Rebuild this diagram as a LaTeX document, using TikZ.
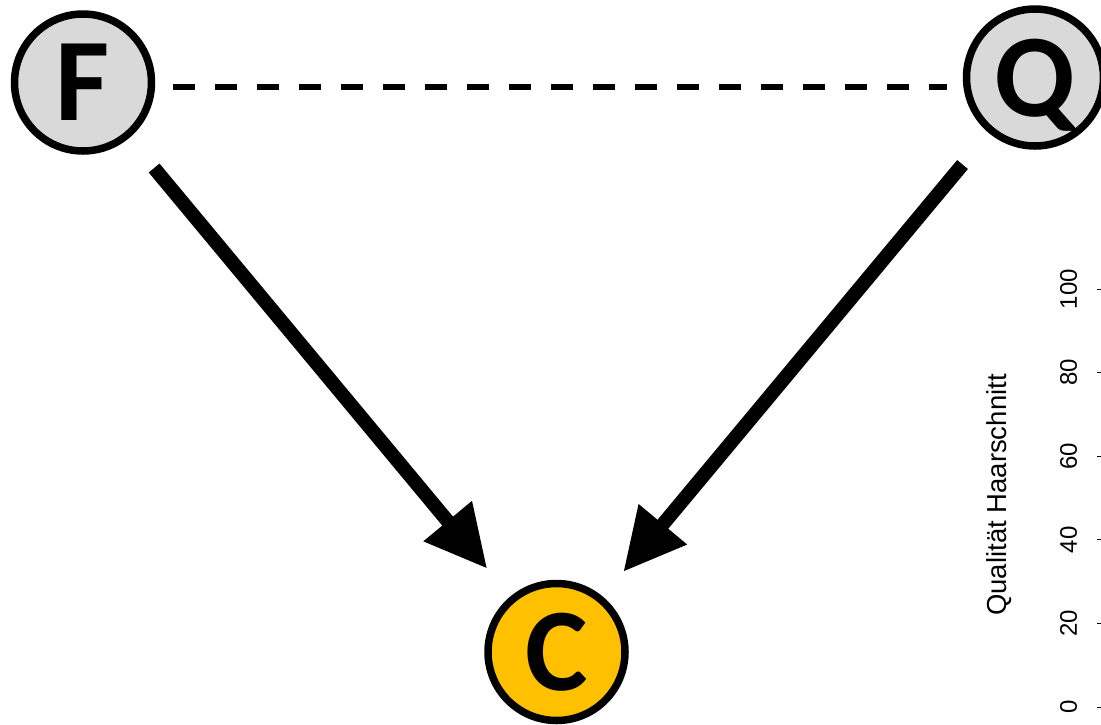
\documentclass[tikz,border=0pt]{standalone}
\usepackage{fontspec}
\setmainfont{Liberation Sans}
\newfontfamily\letterfont{Carlito}
\usetikzlibrary{arrows.meta}

\definecolor{nodegrey}{HTML}{D9D9D9}
\definecolor{outcomegold}{HTML}{FFC000}

\tikzset{
  varnode/.style={circle, draw=black, line width=7.5pt, minimum size=137pt,
    inner sep=0pt, text depth=0pt,
    font=\letterfont\bfseries\fontsize{118}{118}\selectfont},
  causal/.style={line width=14pt, -{Triangle[length=62pt,width=59pt]}},
  assoc/.style={line width=6pt, dash pattern=on 22pt off 20pt},
  ticklabel/.style={rotate=90, inner sep=0pt, font=\fontsize{24}{24}\selectfont},
  axistitle/.style={rotate=90, inner sep=0pt, font=\fontsize{27.5}{27.5}\selectfont},
  tickmark/.style={line width=1pt},
}

\begin{document}
\begin{tikzpicture}[x=1pt, y=-1pt]
  \useasboundingbox (0,0) rectangle (1101,724);
  \clip (0,0) rectangle (1101,724);

  % variables
  \node[varnode, fill=nodegrey]    (F) at (83,82.5)   {F};
  \node[varnode, fill=nodegrey]    (Q) at (1035,77.5) {Q};
  \node[varnode, fill=outcomegold] (C) at (556.5,652) {C};

  % association between F and Q
  \draw[assoc] ([shift={(18,4.5)}]F.east) -- ([shift={(-16,9.5)}]Q.west);

  % causal effects on C
  \draw[causal, shorten <=39pt, shorten >=36pt] (F) -- (C);
  \draw[causal, shorten <=41pt, shorten >=32pt] (Q) -- (C);

  % partial y axis of the neighbouring plot
  \node[axistitle] (ytitle) at (999,495) {Qualität Haarschnitt};
  \foreach \v [count=\i from 0] in {0,20,40,60,80,100} {
    \coordinate (t\i) at (1097, 707-83.6*\i);
    \draw[tickmark] (t\i) -- ++(6,0);
    \node[ticklabel] (l\i) at (1068.5, 707-83.6*\i) {\v};
  }
\end{tikzpicture}
\end{document}
